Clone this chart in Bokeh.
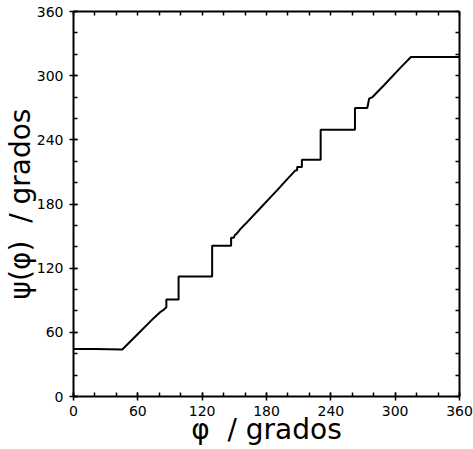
from bokeh.plotting import figure
from bokeh.models import LinearAxis, FixedTicker, Range1d
from bokeh.embed import file_html
from bokeh.resources import INLINE

# psi(phi) curve, degrees
phi = [0, 20, 45.5, 60, 75, 81, 84, 86.6, 86.6, 98, 98, 129.3, 129.3, 147, 147,
       149.5, 150.5, 152, 156, 160, 175, 190, 200, 207, 208.6, 208.6, 213, 213,
       230.5, 230.5, 262.5, 262.5, 274, 275.7, 278.9, 290, 305, 314.7, 330, 360]
psi = [44.5, 44.3, 44, 58.5, 73.5, 79, 81, 83.5, 90.7, 90.7, 112.3, 112.3, 141, 141, 148.5,
       148.5, 151, 152, 157, 161, 177, 193, 204, 211.4, 211.6, 214.5, 214.5, 221.4,
       221.4, 249.5, 249.5, 269.8, 269.8, 278.5, 280, 291.5, 307.5, 317.4, 317.4, 317.4]

major_ticks = [0, 60, 120, 180, 240, 300, 360]
minor_ticks = [0, 20, 40, 60, 80, 100, 120, 140, 160, 180, 200, 220, 240, 260,
               280, 300, 320, 340, 360]

NB = "\u00a0"
x_title = "φ" + NB * 2 + "/" + NB + "grados"
y_title = "ψ(φ)" + NB * 2 + "/" + NB + "grados"

FONT = "DejaVu Sans"

p = figure(width=473, height=449,
           min_border_left=73, min_border_right=14, min_border_top=11, min_border_bottom=53,
           x_range=Range1d(0, 360), y_range=Range1d(0, 360),
           output_backend="svg", toolbar_location=None,
           x_axis_location=None, y_axis_location=None)
p.outline_line_color = None
p.xgrid.visible = False
p.ygrid.visible = False
p.background_fill_color = "white"
p.border_fill_color = "white"

def style(ax, labels):
    ax.axis_line_width = 2
    ax.axis_line_color = "black"
    ax.major_tick_line_width = 1.5
    ax.minor_tick_line_width = 1.5
    ax.major_tick_line_color = "black"
    ax.minor_tick_line_color = "black"
    ax.minor_tick_in = 4
    ax.minor_tick_out = 0
    if labels:
        ax.ticker = FixedTicker(ticks=major_ticks, minor_ticks=minor_ticks)
        ax.major_tick_in = 4
        ax.major_tick_out = 4
        ax.major_label_text_font = FONT
        ax.major_label_text_font_size = "14px"
        ax.major_label_text_color = "black"
        ax.axis_label_text_font = FONT
        ax.axis_label_text_font_size = "28px"
        ax.axis_label_text_font_style = "normal"
        ax.axis_label_text_color = "black"
    else:
        # frame side: tick marks only, no labels
        ax.ticker = FixedTicker(ticks=[], minor_ticks=minor_ticks)
        ax.major_tick_in = 0
        ax.major_tick_out = 0
        ax.major_label_standoff = 0
        ax.axis_label = None

xb = LinearAxis(axis_label=x_title)
style(xb, True)
xb.major_label_standoff = 5
xb.axis_label_standoff = -6
p.add_layout(xb, "below")

yl = LinearAxis(axis_label=y_title)
style(yl, True)
yl.major_label_standoff = 6
yl.axis_label_standoff = -3
p.add_layout(yl, "left")

xt = LinearAxis()
style(xt, False)
p.add_layout(xt, "above")

yr = LinearAxis()
style(yr, False)
p.add_layout(yr, "right")

p.line(phi, psi, line_color="black", line_width=2)

open("out.html", "w").write(file_html(p, INLINE))
